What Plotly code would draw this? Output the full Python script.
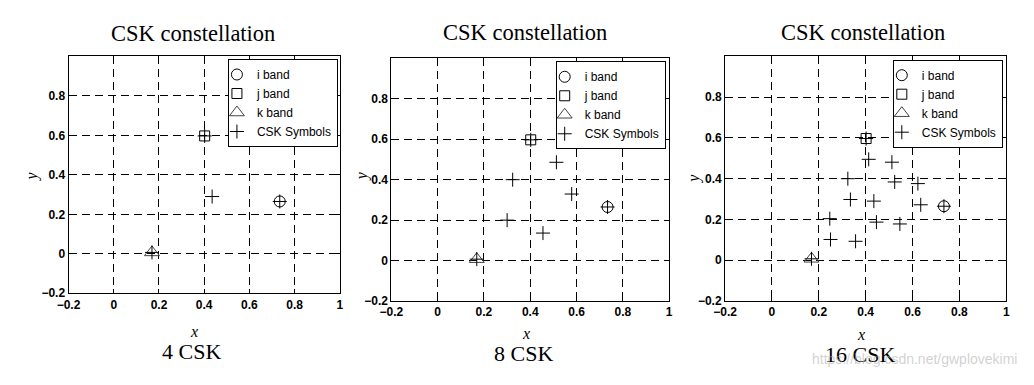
import plotly.graph_objects as go

# ---------------- data ----------------
band_names = ["i band", "j band", "k band"]
band_x = [0.734, 0.402, 0.169]
band_y = [0.265, 0.597, 0.007]
band_symbols = ["circle-open", "square-open", "triangle-up-open"]

csk4_x = [0.734, 0.402, 0.169, 0.435]
csk4_y = [0.265, 0.597, 0.007, 0.290]

csk8_x = [0.324, 0.579, 0.300, 0.455, 0.169, 0.402, 0.513, 0.734]
csk8_y = [0.400, 0.329, 0.200, 0.136, 0.007, 0.597, 0.486, 0.265]

csk16_x = [0.402, 0.413, 0.335, 0.324, 0.512, 0.524, 0.623, 0.734,
           0.250, 0.247, 0.357, 0.169, 0.446, 0.435, 0.546, 0.635]
csk16_y = [0.597, 0.495, 0.298, 0.400, 0.481, 0.384, 0.376, 0.265,
           0.102, 0.204, 0.093, 0.007, 0.187, 0.290, 0.178, 0.272]

panel_labels = ["4 CSK", "8 CSK", "16 CSK"]
panel_title = "CSK constellation"
symbols_name = "CSK Symbols"

x_tickvals = [-0.2, 0, 0.2, 0.4, 0.6, 0.8, 1.0]
x_ticktext = ["\u22120.2", "0", "0.2", "0.4", "0.6", "0.8", "1"]
y_tickvals = [-0.2, 0, 0.2, 0.4, 0.6, 0.8]
y_ticktext = ["\u22120.2", "0", "0.2", "0.4", "0.6", "0.8"]

# ---------------- layout geometry (window pixels) ----------------
OFF = 8                      # default page body margin
W, H = 1034 - 2 * OFF, 385 - 2 * OFF


def px(v):
    return (v - OFF) / W


def py(v):
    return 1 - (v - OFF) / H


panels = [
    dict(xl=57.3, xr=333, yt=57.3, yb=298.8, lr=331, lt=60, tcx=184, ty=34,
         xcx=184.3, xly=338, bcx=182.5, bly=358.5, ylx=20, yly=180),
    dict(xl=385.3, xr=667.5, yt=59.3, yb=306.7, lr=664, lt=62.3, tcx=521, ty=33,
         xcx=522.5, xly=340, bcx=519.5, bly=360, ylx=355, yly=180),
    dict(xl=724.3, xr=1010, yt=57.3, yb=306.7, lr=1006.5, lt=60.7, tcx=864, ty=33,
         xcx=862.5, xly=340.5, bcx=861.7, bly=361, ylx=693.3, yly=182.5),
]
csk_sets = [(csk4_x, csk4_y), (csk8_x, csk8_y), (csk16_x, csk16_y)]

fig = go.Figure()

band_colors = ["black", "black", "#444444"]
band_sizes = [11, 10, 13]

for p, (cx_, cy_) in enumerate(csk_sets):
    suf = "" if p == 0 else str(p + 1)
    leg = "legend" + suf
    for b in range(3):
        fig.add_trace(go.Scatter(
            x=[band_x[b]], y=[band_y[b]], mode="markers", name=band_names[b],
            marker=dict(symbol=band_symbols[b], size=band_sizes[b], color=band_colors[b],
                        line=dict(width=1, color=band_colors[b])),
            xaxis="x" + suf, yaxis="y" + suf, legend=leg, hoverinfo="x+y",
        ))
    fig.add_trace(go.Scatter(
        x=cx_, y=cy_, mode="markers", name=symbols_name,
        marker=dict(symbol="cross-thin-open", size=10, color="black",
                    line=dict(width=1, color="black")),
        xaxis="x" + suf, yaxis="y" + suf, legend=leg, hoverinfo="x+y",
    ))

tickfont = dict(family="Liberation Sans, Arial", size=12, color="black", weight="bold")
layout = dict(
    width=W, height=H,
    margin=dict(l=0, r=0, t=0, b=0),
    paper_bgcolor="white", plot_bgcolor="white",
    showlegend=True,
    annotations=[],
)
axis_common = dict(
    range=[-0.2, 1.0], showgrid=True, gridcolor="black", gridwidth=1, griddash="8px,5px",
    zeroline=False, showline=True, linecolor="black", linewidth=1, mirror="ticks",
    ticks="inside", ticklen=4, tickcolor="black", tickfont=tickfont,
)
serif = "Liberation Serif, Times New Roman, serif"
for p, g in enumerate(panels):
    suf = "" if p == 0 else str(p + 1)
    layout["xaxis" + suf] = dict(
        axis_common, domain=[px(g["xl"]), px(g["xr"])], anchor="y" + suf,
        tickvals=x_tickvals, ticktext=x_ticktext,
    )
    layout["yaxis" + suf] = dict(
        axis_common, domain=[py(g["yb"]), py(g["yt"])], anchor="x" + suf,
        tickvals=y_tickvals, ticktext=y_ticktext,
    )
    layout["legend" + suf] = dict(
        x=px(g["lr"]), y=py(g["lt"]), xanchor="right", yanchor="top",
        xref="paper", yref="paper",
        bgcolor="white", bordercolor="black", borderwidth=1,
        font=dict(family="Liberation Sans, Arial", size=12, color="black"),
        tracegroupgap=0, indentation=-12,
    )
    layout["annotations"] += [
        dict(text=panel_title, x=px(g["tcx"]), y=py(g["ty"]), xref="paper", yref="paper",
             showarrow=False, xanchor="center", yanchor="middle",
             font=dict(family=serif, size=22.5, color="black")),
        dict(text="x", x=px(g["xcx"]), y=py(g["xly"]), xref="paper", yref="paper",
             showarrow=False, xanchor="center", yanchor="middle",
             font=dict(family=serif, size=16, color="black", style="italic")),
        dict(text=panel_labels[p], x=px(g["bcx"]), y=py(g["bly"]), xref="paper", yref="paper",
             showarrow=False, xanchor="center", yanchor="middle",
             font=dict(family=serif, size=22, color="black")),
        dict(text="y", x=px(g["ylx"]), y=py(g["yly"]), xref="paper", yref="paper",
             showarrow=False, xanchor="center", yanchor="middle", textangle=-90,
             font=dict(family=serif, size=16, color="black", style="italic")),
    ]

layout["annotations"].append(dict(
    text="https://blog.csdn.net/gwplovekimi", x=px(1023), y=py(366),
    xref="paper", yref="paper", showarrow=False, xanchor="right", yanchor="middle",
    font=dict(family="Liberation Sans, Arial", size=14, color="rgba(170,170,170,0.55)"),
))

fig.update_layout(**layout)
fig.write_html("out.html")
